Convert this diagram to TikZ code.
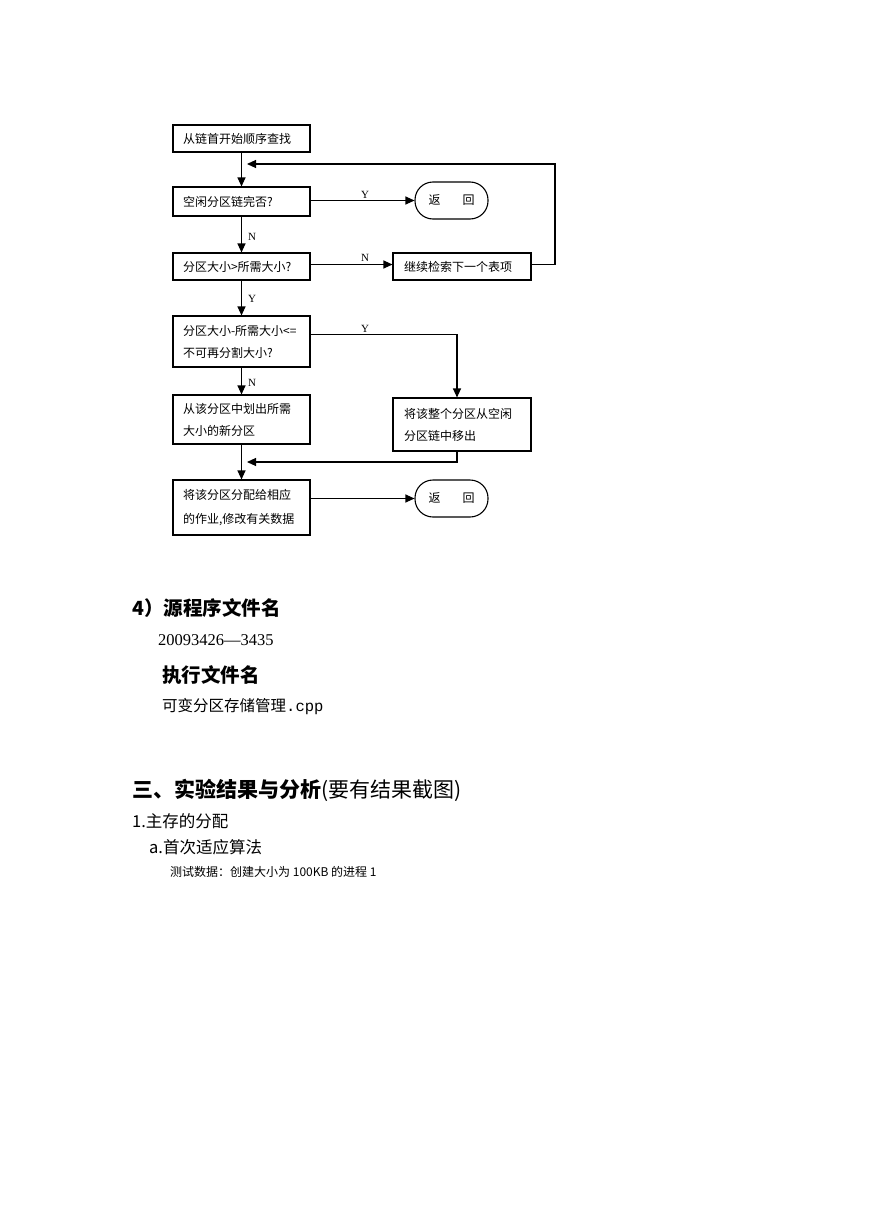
\documentclass[tikz,border=0pt]{standalone}
\usepackage{fontspec}
\setmainfont{Liberation Serif}
\newfontfamily\cjk{Noto Sans CJK SC}
\newfontfamily\monof{Liberation Mono}
\usetikzlibrary{arrows.meta,calc}
\tikzset{
  box/.style={draw, line width=1.1pt, minimum width=137pt, text width=117pt, inner xsep=10pt, inner ysep=0pt, align=left, font=\cjk\fontsize{12}{22}\selectfont},
  oval/.style={draw, line width=1.1pt, minimum width=73pt, minimum height=37pt, rounded corners=18pt, font=\cjk\fontsize{12}{14}\selectfont},
  conn/.style={line width=1.1pt, -{Triangle[length=9pt,width=8pt]}},
  lab/.style={font=\fontsize{11}{12}\selectfont, inner sep=0pt},
  txt/.style={anchor=west, inner sep=0pt}
}
\begin{document}
\begin{tikzpicture}[x=1pt,y=-1pt]
\useasboundingbox[fill=white] (0,0) rectangle (869,1228);
% boxes
\node[box, minimum height=27pt] (b1) at (241.5,138.5) {从链首开始顺序查找};
\node[box, minimum height=29pt] (b2) at (241.5,201.5) {空闲分区链完否?};
\node[box, minimum height=27pt] (b3) at (241.5,266.5) {分区大小>所需大小?};
\node[box, minimum width=138pt, text width=116pt, inner xsep=11pt, minimum height=27pt] (b4) at (462,266.5) {继续检索下一个表项};
\node[box, minimum height=51pt] (b5) at (241.5,341.5) {分区大小-所需大小<=\\不可再分割大小?};
\node[box, minimum width=138pt, text width=116pt, inner xsep=11pt, minimum height=53pt] (b6) at (462,424.5) {将该整个分区从空闲\\分区链中移出};
\node[box, minimum height=49pt] (b7) at (241.5,419.5) {从该分区中划出所需\\大小的新分区};
\node[box, minimum height=55pt, font=\cjk\fontsize{12}{24}\selectfont] (b8) at (241.5,507.5) {将该分区分配给相应\\的作业,修改有关数据};
\node[oval] (o1) at (451.5,200.5) {返\hspace{22pt}回};
\node[oval] (o2) at (451.5,498.5) {返\hspace{22pt}回};
% junction coordinates
\coordinate (j1) at (247,164);
\coordinate (r1) at (555,164);
\coordinate (j2) at (247,462);
% connectors
\draw[conn] (b1.south) -- (b2.north);
\draw[conn] ([yshift=2pt]b4.east) -| (r1) -- (j1);
\draw[conn] (b2.east |- o1.west) -- (o1.west);
\draw[conn] (b2.south) -- (b3.north);
\draw[conn] ([yshift=2pt]b3.east) -- ([yshift=2pt]b4.west);
\draw[conn] (b3.south) -- (b5.north);
\draw[conn] ([yshift=7pt]b5.east) -| ([xshift=-5pt]b6.north);
\draw[conn] (b5.south) -- (b7.north);
\draw[conn] (b7.south) -- (b8.north);
\draw[conn] ([xshift=-5pt]b6.south) |- (j2);
\draw[conn] (b8.east |- o2.west) -- (o2.west);
% labels
\node[lab] (ly1) at (365,195) {Y};
\node[lab, anchor=west] (ln1) at (248,237) {N};
\node[lab] (ln2) at (365,258) {N};
\node[lab, anchor=west] (ly2) at (248,299) {Y};
\node[lab] (ly3) at (365,329) {Y};
\node[lab, anchor=west] (ln3) at (248,383) {N};
% text section
\node[txt, font=\cjk\bfseries\fontsize{19.5}{20}\selectfont] (t1) at (132,608) {4）源程序文件名};
\node[txt, font=\fontsize{16.5}{18}\selectfont] (t2) at (158,640) {20093426—3435};
\node[txt, font=\cjk\bfseries\fontsize{19.5}{20}\selectfont] (t3) at (162,675) {执行文件名};
\node[txt, font=\cjk\fontsize{15.5}{17}\selectfont] (t4) at (162,707) {可变分区存储管理{\monof\fontsize{15.5}{17}\selectfont.cpp}};
\node[txt, font=\cjk\fontsize{21}{22}\selectfont] (t5) at (132,790) {{\bfseries 三、实验结果与分析}(要有结果截图)};
\node[txt, font=\cjk\fontsize{16.5}{18}\selectfont] (t6) at (132,821) {1.主存的分配};
\node[txt, font=\cjk\fontsize{16.5}{18}\selectfont] (t7) at (149,847) {a.首次适应算法};
\node[txt, font=\cjk\fontsize{12}{14}\selectfont] (t8) at (170,872) {测试数据：创建大小为 100KB 的进程 1};
\end{tikzpicture}
\end{document}
